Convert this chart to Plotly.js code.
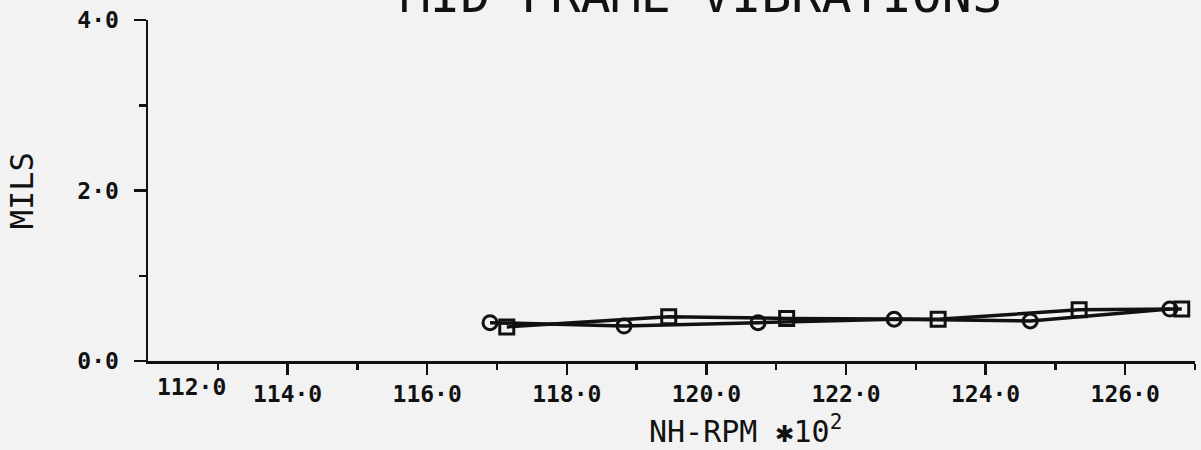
<!DOCTYPE html>
<html>
<head>
<meta charset="utf-8">
<script src="https://cdn.plot.ly/plotly-3.0.1.min.js"></script>
<style>html,body{margin:0;padding:0;background:#f2f2f2;}#chart{width:1201px;height:450px;}</style>
</head>
<body>
<div id="chart"></div>
<script>
// Data
const circleRpm = [116.90, 118.82, 120.74, 122.69, 124.64, 126.64];
const circleMils = [0.45, 0.41, 0.45, 0.49, 0.47, 0.61];
const squareRpm = [117.14, 119.46, 121.15, 123.32, 125.34, 126.81];
const squareMils = [0.40, 0.52, 0.50, 0.49, 0.60, 0.61];

const xTickVals = [114, 116, 118, 120, 122, 124, 126];
const xTickText = ['114·0', '116·0', '118·0', '120·0', '122·0', '124·0', '126·0'];
const xMinorVals = [113, 115, 117, 119, 121, 123, 125, 127];
const xFirstTick = 112;
const xFirstTickText = '112·0';
const yTickVals = [0, 2, 4];
const yTickText = ['0·0', '2·0', '4·0'];
const yMinorVals = [1, 3];

const titleText = 'MID FRAME VIBRATIONS';
const xTitleText = 'NH-RPM ✱10<sup>2</sup>';
const yTitleText = 'MILS';

const MONO = 'DejaVu Sans Mono, monospace';
const BG = '#f2f2f2';
const INK = '#111';
const TICKFONT = {family: MONO, size: 23, color: INK, weight: 'bold'};

const traces = [
  {
    x: circleRpm, y: circleMils, type: 'scatter', mode: 'lines+markers',
    line: {color: INK, width: 3.5},
    marker: {symbol: 'circle-open', size: 14, color: INK, line: {width: 3, color: INK}},
    cliponaxis: false, showlegend: false, hoverinfo: 'x+y'
  },
  {
    x: squareRpm, y: squareMils, type: 'scatter', mode: 'lines+markers',
    line: {color: INK, width: 3.5},
    marker: {symbol: 'square-open', size: 14, color: INK, line: {width: 3, color: INK}},
    cliponaxis: false, showlegend: false, hoverinfo: 'x+y'
  }
];

const layout = {
  width: 1201, height: 450,
  paper_bgcolor: BG, plot_bgcolor: BG,
  margin: {l: 148, r: 6, t: 20, b: 89},
  showlegend: false,
  xaxis: {
    range: [112, 127], autorange: false,
    tickmode: 'array', tickvals: xTickVals, ticktext: xTickText,
    ticks: 'outside', ticklen: 11, tickwidth: 2.5, tickcolor: INK,
    ticklabelstandoff: 0,
    showline: true, linecolor: INK, linewidth: 2.5,
    showgrid: false, zeroline: false,
    tickfont: TICKFONT,
    minor: {tickvals: xMinorVals, ticks: 'outside', ticklen: 6, tickwidth: 2.5, tickcolor: INK, showgrid: false}
  },
  yaxis: {
    range: [0, 4], autorange: false,
    tickmode: 'array', tickvals: yTickVals, ticktext: yTickText,
    ticks: 'outside', ticklen: 12, tickwidth: 2.5, tickcolor: INK,
    ticklabelstandoff: 10,
    showline: true, linecolor: INK, linewidth: 2.5,
    showgrid: false, zeroline: false,
    tickfont: TICKFONT,
    minor: {tickvals: yMinorVals, ticks: 'outside', ticklen: 7, tickwidth: 2.5, tickcolor: INK, showgrid: false}
  },
  annotations: [
    {text: titleText, xref: 'paper', yref: 'paper', x: 0.528, y: 0.982, xanchor: 'center', yanchor: 'bottom',
     showarrow: false, font: {family: MONO, size: 50, color: INK}},
    {text: xFirstTickText, xref: 'x', yref: 'paper', x: xFirstTick, y: 0, xanchor: 'left', yanchor: 'top',
     xshift: 7, yshift: -11, showarrow: false, font: TICKFONT},
    {text: xTitleText, xref: 'paper', yref: 'paper', x: 0.571, y: -0.2, xanchor: 'center', yanchor: 'middle',
     showarrow: false, font: {family: MONO, size: 30, color: INK}},
    {text: yTitleText, xref: 'paper', yref: 'paper', x: -0.12, y: 0.4985, xanchor: 'center', yanchor: 'middle',
     textangle: -90, showarrow: false, font: {family: MONO, size: 32, color: INK}}
  ]
};

Plotly.newPlot('chart', traces, layout, {displayModeBar: false, staticPlot: true});
</script>
</body>
</html>
